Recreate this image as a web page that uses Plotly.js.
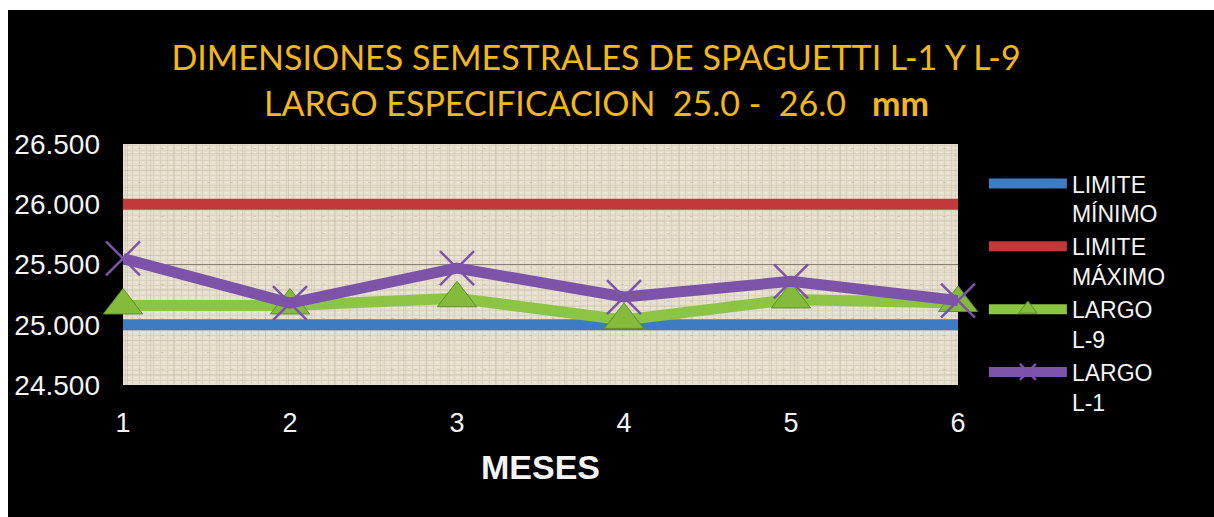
<!DOCTYPE html>
<html>
<head>
<meta charset="utf-8">
<script src="https://cdn.plot.ly/plotly-3.0.1.min.js"></script>
<style>
  html, body { margin: 0; padding: 0; background: #ffffff; width: 1214px; height: 517px; overflow: hidden; }
  #chart { position: absolute; left: 8px; top: 10px; width: 1206px; height: 507px; }
</style>
</head>
<body>
<div id="chart"></div>
<script>
// Months of the half-year
const meses = [1, 2, 3, 4, 5, 6];
// Specification limits (mm)
const limiteMinimo = [25.0, 25.0, 25.0, 25.0, 25.0, 25.0];
const limiteMaximo = [26.0, 26.0, 26.0, 26.0, 26.0, 26.0];
// Measured length per line (mm)
const largoL9 = [25.16, 25.16, 25.22, 25.04, 25.21, 25.18];
const largoL1 = [25.55, 25.18, 25.47, 25.23, 25.36, 25.20];
// Axis ticks
const yTicks = [24.5, 25.0, 25.5, 26.0, 26.5];
const yTickText = ['24.500', '25.000', '25.500', '26.000', '26.500'];

const nbsp = '\u00a0';
const titulo1 = 'DIMENSIONES SEMESTRALES DE SPAGUETTI L-1 Y L-9';
const titulo2 = 'LARGO ESPECIFICACION' + nbsp + nbsp + '25.0 -' + nbsp + nbsp + '26.0' + nbsp + nbsp + nbsp + '<b>mm</b>';

// Woven-cloth texture for the plotting area
const weave = '<svg xmlns="http://www.w3.org/2000/svg" width="835" height="241">' +
  '<defs><pattern id="w" width="7" height="5" patternUnits="userSpaceOnUse">' +
  '<rect width="7" height="5" fill="#e7dfce"/>' +
  '<rect x="0" y="1" width="7" height="1" fill="#d3c8b4" opacity="0.55"/>' +
  '<rect x="2" y="0" width="1" height="5" fill="#cfc4af" opacity="0.45"/>' +
  '<rect x="5" y="3" width="2" height="1" fill="#f4efe5" opacity="0.8"/>' +
  '</pattern>' +
  '<pattern id="v" width="23" height="17" patternUnits="userSpaceOnUse">' +
  '<rect x="4" y="0" width="1" height="17" fill="#b9ad98" opacity="0.35"/>' +
  '<rect x="0" y="9" width="23" height="1" fill="#bcb09b" opacity="0.3"/>' +
  '<rect x="15" y="4" width="3" height="1" fill="#a89c88" opacity="0.35"/>' +
  '</pattern></defs>' +
  '<rect width="835" height="241" fill="url(#w)"/>' +
  '<rect width="835" height="241" fill="url(#v)"/></svg>';
const weaveUri = 'data:image/svg+xml;charset=utf-8,' + encodeURIComponent(weave);

const lineW = 11;
const traces = [
  {
    x: meses, y: limiteMinimo, name: 'LIMITE<br>MÍNIMO', type: 'scatter', mode: 'lines',
    line: { color: '#3b7cc3', width: lineW }
  },
  {
    x: meses, y: limiteMaximo, name: 'LIMITE<br>MÁXIMO', type: 'scatter', mode: 'lines',
    line: { color: '#c3393a', width: lineW }
  },
  {
    x: meses, y: largoL9, name: 'LARGO<br>L-9', type: 'scatter', mode: 'lines+markers',
    line: { color: '#8cc443', width: lineW },
    marker: { symbol: 'triangle-up', size: 34, color: '#85bb3c', line: { color: '#5f8f2a', width: 1 } },
    cliponaxis: false
  },
  {
    x: meses, y: largoL1, name: 'LARGO<br>L-1', type: 'scatter', mode: 'lines+markers',
    line: { color: '#7c53a8', width: lineW },
    marker: { symbol: 'x-thin', size: 34, color: '#7c53a8', line: { color: '#7c53a8', width: 2.5 } },
    cliponaxis: false
  }
];

const layout = {
  width: 1206, height: 507,
  paper_bgcolor: '#000000',
  plot_bgcolor: '#e7dfce',
  margin: { l: 115, r: 256, t: 134, b: 132, autoexpand: false },
  showlegend: true,
  title: {
    text: titulo1,
    font: { family: 'Lato, "Open Sans", sans-serif', size: 34, color: '#f2b71c' },
    xref: 'paper', x: 0.5665, xanchor: 'center',
    yref: 'container', y: 0.905, yanchor: 'middle'
  },
  annotations: [
    {
      text: titulo2, showarrow: false,
      xref: 'paper', yref: 'paper', x: 0.5665, y: 1.172, xanchor: 'center', yanchor: 'middle',
      font: { family: 'Lato, "Open Sans", sans-serif', size: 34, color: '#f2b71c' }
    }
  ],
  xaxis: {
    range: [1, 6],
    tickvals: meses,
    ticktext: meses.map(String),
    showgrid: false, zeroline: false, showline: false,
    ticks: '', ticklabelstandoff: 19,
    tickfont: { family: '"Liberation Sans", Arial, sans-serif', size: 27, color: '#f4f4f4' },
    title: {
      text: '<b>MESES</b>', standoff: 18,
      font: { family: '"Liberation Sans", Arial, sans-serif', size: 34, color: '#f4f4f4' }
    },
    fixedrange: true
  },
  yaxis: {
    range: [24.5, 26.5],
    tickvals: yTicks,
    ticktext: yTickText,
    showgrid: true, gridcolor: '#8a8275', gridwidth: 1,
    zeroline: false, showline: false,
    ticks: '', ticklabelstandoff: 22,
    tickfont: { family: '"Liberation Sans", Arial, sans-serif', size: 28, color: '#f4f4f4' },
    fixedrange: true
  },
  legend: {
    x: 1.031, xanchor: 'left', y: 0.925, yanchor: 'top',
    valign: 'top',
    itemwidth: 78,
    maxheight: 480,
    bgcolor: 'rgba(0,0,0,0)',
    font: { family: '"Liberation Sans", Arial, sans-serif', size: 23, color: '#f4f4f4' },
    itemclick: false, itemdoubleclick: false
  },
  images: [
    {
      source: weaveUri, xref: 'paper', yref: 'paper', x: 0, y: 1, sizex: 1, sizey: 1,
      sizing: 'stretch', xanchor: 'left', yanchor: 'top', layer: 'below'
    }
  ]
};

Plotly.newPlot('chart', traces, layout, { displayModeBar: false, staticPlot: true });
</script>
</body>
</html>
